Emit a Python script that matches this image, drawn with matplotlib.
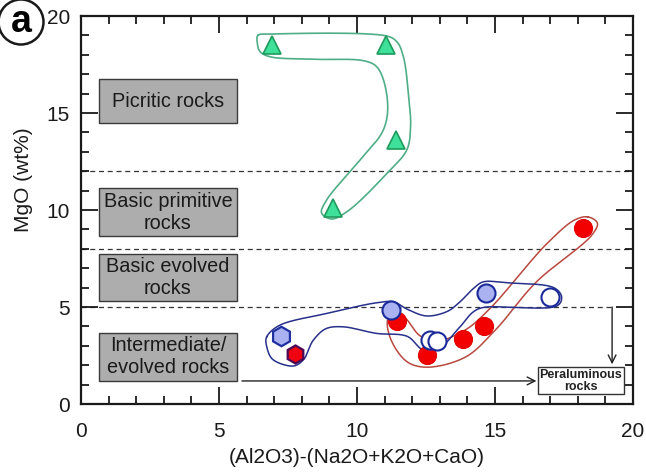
import numpy as np
import matplotlib
matplotlib.use("Agg")
import matplotlib.pyplot as plt
from matplotlib.ticker import MultipleLocator
from matplotlib.patches import Rectangle

plt.rcParams['font.family'] = ['Liberation Sans', 'DejaVu Sans']

# data points
tri_x = [6.92, 11.05, 11.4, 9.13]
tri_y = [18.5, 18.5, 13.6, 10.1]

red_x = [18.2, 11.45, 12.54, 13.84, 14.6]
red_y = [9.05, 4.28, 2.53, 3.35, 4.0]

redhex_x = [7.75]
redhex_y = [2.58]

bluehex_x = [7.25]
bluehex_y = [3.5]

blue_x = [11.23, 14.67]
blue_y = [4.85, 5.72]

open_x = [12.64, 12.9, 16.99]
open_y = [3.3, 3.25, 5.5]

# envelope outlines (control points)
green_env = [(6.42, 19.02), (6.85, 19.07), (11.08, 18.97), (11.44, 18.68), (11.68, 17.9),
             (11.86, 16.0), (11.94, 14.3), (11.8, 13.09), (11.2, 12.06), (9.63, 9.91),
             (9.08, 9.54), (8.72, 9.83), (8.9, 10.52), (10.11, 12.58), (10.95, 14.12),
             (11.1, 15.67), (10.71, 17.39), (10.23, 17.7), (8.54, 17.77), (6.85, 17.9),
             (6.49, 18.16), (6.39, 18.59)]
red_env = [(18.35, 9.65), (18.7, 9.35), (18.5, 8.7), (16.5, 6.3), (15.0, 3.8), (13.9, 2.4),
           (12.6, 1.9), (11.9, 2.1), (11.3, 3.1), (11.1, 4.3), (11.3, 4.75), (11.7, 4.5),
           (12.3, 3.5), (12.9, 3.25), (13.9, 3.8), (14.8, 4.9), (16.9, 8.3), (17.9, 9.5)]
blue_env = [(6.73, 3.47), (7.21, 4.07), (8.9, 4.67), (10.71, 5.22), (11.32, 5.27), (11.8, 4.9),
            (12.52, 4.54), (13.25, 4.76), (13.73, 5.27), (14.22, 5.96), (14.58, 6.3),
            (15.42, 6.25), (17.11, 6.01), (17.41, 5.53), (17.23, 5.05), (14.58, 4.98),
            (14.22, 4.76), (13.73, 3.98), (12.88, 2.78), (12.4, 2.78), (11.8, 3.5),
            (10.71, 3.64), (9.5, 3.98), (8.9, 3.9), (8.42, 3.3), (8.05, 2.27), (7.69, 1.96),
            (6.97, 2.27), (6.73, 2.95)]

# field boxes
field_labels = ["Picritic rocks", "Basic primitive\nrocks", "Basic evolved\nrocks",
                "Intermediate/\nevolved rocks"]
field_y0 = [14.48, 8.66, 5.31, 1.19]
field_y1 = [16.75, 11.13, 7.73, 3.66]
field_x0 = 0.65
field_x1 = 5.65

div_lines = [12, 8]


def closed_spline(pts, n=40):
    # centripetal catmull-rom, closed
    p = np.array(pts, dtype=float)
    m = len(p)
    out = []
    for i in range(m):
        p0, p1, p2, p3 = p[(i - 1) % m], p[i], p[(i + 1) % m], p[(i + 2) % m]
        t0 = 0.0
        t1 = t0 + np.linalg.norm(p1 - p0) ** 0.5
        t2 = t1 + np.linalg.norm(p2 - p1) ** 0.5
        t3 = t2 + np.linalg.norm(p3 - p2) ** 0.5
        t = np.linspace(t1, t2, n, endpoint=False)[:, None]
        a1 = (t1 - t) / (t1 - t0) * p0 + (t - t0) / (t1 - t0) * p1
        a2 = (t2 - t) / (t2 - t1) * p1 + (t - t1) / (t2 - t1) * p2
        a3 = (t3 - t) / (t3 - t2) * p2 + (t - t2) / (t3 - t2) * p3
        b1 = (t2 - t) / (t2 - t0) * a1 + (t - t0) / (t2 - t0) * a2
        b2 = (t3 - t) / (t3 - t1) * a2 + (t - t1) / (t3 - t1) * a3
        out.append((t2 - t) / (t2 - t1) * b1 + (t - t1) / (t2 - t1) * b2)
    out = np.vstack(out)
    return np.vstack([out, out[:1]])


fig = plt.figure(figsize=(6.46, 4.72), dpi=100)
ax = fig.add_axes([0.1254, 0.144, 0.8546, 0.822])

# dashed division lines
for yv in div_lines:
    ax.plot([0, 20], [yv, yv], ls=(0, (4, 3)), color='#333333', lw=0.9, zorder=1)
ax.plot([0, 19.24], [5, 5], ls=(0, (4, 3)), color='#333333', lw=0.9, zorder=1)

# field boxes
for lab, y0, y1 in zip(field_labels, field_y0, field_y1):
    ax.add_patch(Rectangle((field_x0, y0), field_x1 - field_x0, y1 - y0,
                           fc='#adadad', ec='#3a3a3a', lw=1.0, zorder=2))
    ax.text((field_x0 + field_x1) / 2, (y0 + y1) / 2, lab, ha='center', va='center',
            fontsize=14.3, color='#1a1a1a', linespacing=1.2, zorder=3)

# peraluminous box and arrows
ax.add_patch(Rectangle((16.56, 0.52), 3.11, 1.38, fc='white', ec='#333333', lw=1.0, zorder=2))
ax.text(18.11, 1.2, "Peraluminous\nrocks", ha='center', va='center', fontsize=9,
        fontweight='bold', color='#222222', linespacing=1.05, zorder=3)
ax.annotate("", xy=(16.5, 1.19), xytext=(5.83, 1.19),
            arrowprops=dict(arrowstyle='->', color='#222222', lw=1.0,
                            mutation_scale=14, shrinkA=0, shrinkB=0))
ax.annotate("", xy=(19.24, 2.05), xytext=(19.24, 5.0),
            arrowprops=dict(arrowstyle='->', color='#222222', lw=1.0,
                            mutation_scale=14, shrinkA=0, shrinkB=0))

# envelopes
g = closed_spline(green_env)
ax.plot(g[:, 0], g[:, 1], color='#4fae86', lw=1.2, zorder=3)
r = closed_spline(red_env)
ax.plot(r[:, 0], r[:, 1], color='#b8483f', lw=1.1, zorder=3)
b = closed_spline(blue_env)
ax.plot(b[:, 0], b[:, 1], color='#27308a', lw=1.1, zorder=3)

# markers
ax.plot(tri_x, tri_y, '^', ms=13, mfc='#3fe09a', mec='#1d9a5c', mew=1.2, ls='none', zorder=5)
ax.plot(red_x, red_y, 'o', ms=13, mfc='#f20000', mec='#e00000', mew=0.8, ls='none', zorder=5)
ax.plot(redhex_x, redhex_y, 'h', ms=13, mfc='#f00010', mec='#4a0a55', mew=1.6, ls='none', zorder=5)
ax.plot(bluehex_x, bluehex_y, 'h', ms=14, mfc='#aab2f2', mec='#2030a0', mew=1.6, ls='none', zorder=5)
ax.plot(blue_x, blue_y, 'o', ms=13, mfc='#aab2f2', mec='#1a2a9a', mew=1.5, ls='none', zorder=6)
ax.plot(open_x, open_y, 'o', ms=13, mfc='white', mec='#1a2a9a', mew=1.5, ls='none', zorder=6)

ax.set_xlim(0, 20)
ax.set_ylim(0, 20)
ax.xaxis.set_major_locator(MultipleLocator(5))
ax.xaxis.set_minor_locator(MultipleLocator(1))
ax.yaxis.set_major_locator(MultipleLocator(5))
ax.yaxis.set_minor_locator(MultipleLocator(1))
ax.tick_params(which='both', direction='in', top=True, right=True, width=1.3,
               labelsize=15, colors='#1a1a1a', pad=8)
ax.tick_params(axis='x', which='both', pad=13)
ax.tick_params(which='major', length=12)
ax.tick_params(which='minor', length=6)
for s in ax.spines.values():
    s.set_linewidth(1.6)
    s.set_color('#1a1a1a')

ax.set_xlabel("(Al2O3)-(Na2O+K2O+CaO)", fontsize=15, color='#1a1a1a', labelpad=5)
ax.set_ylabel("MgO (wt%)", fontsize=15, color='#1a1a1a')
ax.yaxis.set_label_coords(-0.087, 0.577)

fig.text(21 / 646, 1 - 22 / 472, "a", fontsize=27, fontweight='bold', ha='center', va='center',
         bbox=dict(boxstyle='circle,pad=0.12', fc='white', ec='#1a1a1a', lw=1.8))

fig.savefig("out.png", dpi=100)
